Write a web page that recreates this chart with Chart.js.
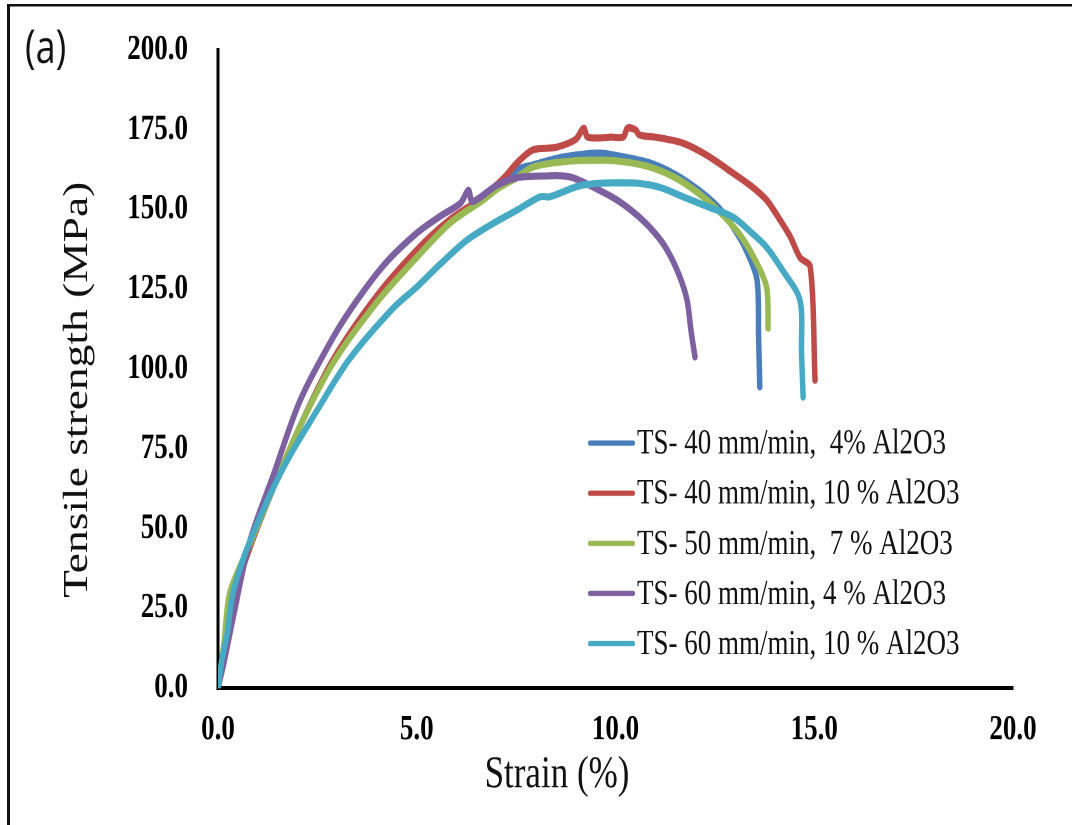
<!DOCTYPE html>
<html>
<head>
<meta charset="utf-8">
<script src="https://cdn.jsdelivr.net/npm/chart.js@4.4.1/dist/chart.umd.min.js"></script>
<style>
  html, body { margin: 0; padding: 0; background: #fff; width: 1072px; height: 825px; }
  #page { position: relative; width: 1072px; height: 825px; }
  /* the original figure is stretched vertically, so the whole canvas is too */
  #stage { position: absolute; left: 0; top: 0; width: 1072px; height: 635px; transform: scaleY(1.2992); transform-origin: 0 0; }
</style>
</head>
<body>
<div id="page"><div id="stage"><canvas id="tensile-chart" width="1072" height="635"></canvas></div></div>
<script>
const seriesLabels = [
  "TS- 40 mm/min,  4% Al2O3",
  "TS- 40 mm/min, 10 % Al2O3",
  "TS- 50 mm/min,  7 % Al2O3",
  "TS- 60 mm/min, 4 % Al2O3",
  "TS- 60 mm/min, 10 % Al2O3"
];
const seriesColors = ["#4A7EBB", "#BE4B48", "#98B954", "#7D60A0", "#46AAC5"];
const xTickValues = [0, 5, 10, 15, 20];
const yTickValues = [0, 25, 50, 75, 100, 125, 150, 175, 200];

// strain (%) / tensile strength (MPa)
const strain40mm4 = [0, 0.15, 0.35, 0.8, 1.4, 2.06, 2.9, 4.0, 5.0, 5.8, 6.67, 7.52, 7.92, 8.7, 9.6, 10.2, 10.87, 11.5, 12.1, 12.6, 12.96, 13.3, 13.56, 13.6, 13.63];
const stress40mm4 = [0, 11, 26, 44, 63, 82, 103, 122, 137, 146, 153.5, 162.5, 164, 166.5, 167.7, 166.5, 164.6, 161, 156, 150.5, 144.5, 137, 128, 110, 94.4];

const strain40mm10 = [0, 0.15, 0.35, 0.8, 1.4, 2.06, 2.9, 4.0, 5.0, 5.8, 6.67, 7.2, 7.52, 7.92, 8.5, 9.0, 9.2, 9.3, 9.9, 10.2, 10.3, 10.5, 10.6, 11.1, 11.7, 12.3, 12.96, 13.4, 13.8, 14.1, 14.4, 14.64, 14.9, 15.02];
const stress40mm10 = [0, 12, 27, 44, 63, 82, 103, 123, 137.3, 146.5, 154, 160, 164.6, 168.7, 169.5, 172, 175.5, 172.7, 172.7, 172.8, 175.5, 175, 173.4, 172.5, 170.8, 167, 161.4, 157.5, 153, 147.5, 141.4, 135, 132, 96.5];

const strain50mm7 = [0, 0.15, 0.3, 0.8, 1.4, 2.06, 2.9, 4.0, 5.0, 5.84, 6.67, 7.09, 7.52, 7.92, 8.7, 9.6, 10.2, 10.87, 11.5, 12.1, 12.6, 13.1, 13.5, 13.8, 13.84];
const stress50mm7 = [0, 14, 30, 45, 63, 82, 102, 121, 135, 145.8, 153, 157, 160, 163.3, 165, 165.5, 165, 163.3, 160, 155, 149.5, 142.6, 134.5, 125.7, 112.8];

const strain60mm4 = [0, 0.15, 0.38, 0.8, 1.4, 2.06, 2.9, 3.5, 4.2, 5.0, 5.6, 6.1, 6.3, 6.4, 7.0, 7.52, 8.2, 8.86, 9.6, 10.1, 10.6, 11.0, 11.3, 11.6, 11.8, 11.9, 12.0];
const stress60mm4 = [0, 8, 22, 46, 67, 90, 110, 121.6, 133, 142.6, 148, 152, 156, 152.5, 157.5, 160, 160.5, 160.2, 156, 152.5, 147.6, 142.5, 137.3, 129.5, 121.6, 112, 103.8];

const strain60mm10 = [0, 0.1, 0.23, 0.38, 0.8, 1.64, 2.49, 3.3, 4.4, 5.0, 5.6, 6.26, 6.9, 7.52, 8.1, 8.35, 9.18, 10.44, 11.1, 11.7, 12.3, 12.96, 13.4, 13.8, 14.2, 14.64, 14.68, 14.72];
const stress60mm10 = [0, 9, 17, 30, 46, 69, 87, 103, 119, 125.7, 133, 140.4, 145.5, 149.8, 154, 154, 157.7, 158.3, 157, 154, 151, 147.6, 143, 138.2, 131, 121.6, 105, 91.2];

const serif = "'Liberation Serif', 'Times New Roman', serif";

function toPoints(xs, ys) {
  return xs.map((x, i) => ({ x: x, y: ys[i] }));
}

const curves = [
  toPoints(strain40mm4, stress40mm4),
  toPoints(strain40mm10, stress40mm10),
  toPoints(strain50mm7, stress50mm7),
  toPoints(strain60mm4, stress60mm4),
  toPoints(strain60mm10, stress60mm10)
];

// frame, panel letter, axis titles and the in-plot legend
const decorations = {
  id: "decorations",
  afterDraw(chart) {
    const ctx = chart.ctx;
    ctx.save();
    ctx.fillStyle = "#111";
    ctx.fillRect(7, 3, 1065, 2);
    ctx.fillRect(7, 3, 3, 640);

    ctx.font = "36px 'Open Sans', sans-serif";
    ctx.textAlign = "left";
    ctx.textBaseline = "middle";
    ctx.fillText("(a)", 25, 38);

    ctx.font = "35px " + serif;
    ctx.textAlign = "center";
    ctx.fillText("Strain (%)", 557, 597);

    ctx.save();
    ctx.translate(78, 300);
    ctx.rotate(-Math.PI / 2);
    ctx.fillText("Tensile strength (MPa)", 0, 0);
    ctx.restore();

    ctx.font = "27px " + serif;
    ctx.textAlign = "left";
    chart.data.datasets.forEach((ds, i) => {
      const y = 341 + i * 38.6;
      ctx.strokeStyle = ds.borderColor;
      ctx.lineWidth = 4;
      ctx.lineCap = "round";
      ctx.beginPath();
      ctx.moveTo(590, y);
      ctx.lineTo(633, y);
      ctx.stroke();
      ctx.fillStyle = "#111";
      ctx.fillText(ds.label, 637, y + 1);
    });
    ctx.restore();
  }
};

new Chart(document.getElementById("tensile-chart"), {
  type: "scatter",
  data: {
    datasets: curves.map((pts, i) => ({
      label: seriesLabels[i],
      data: pts,
      showLine: true,
      borderColor: seriesColors[i],
      backgroundColor: seriesColors[i],
      borderWidth: 5.5,
      borderCapStyle: "round",
      borderJoinStyle: "round",
      tension: 0.3,
      pointRadius: 0,
      pointHoverRadius: 0,
      order: seriesLabels.length - i
    }))
  },
  options: {
    responsive: false,
    animation: false,
    devicePixelRatio: 2,
    layout: { padding: { left: 10, right: 59, top: 38.5, bottom: 0 } },
    plugins: {
      legend: { display: false },
      tooltip: { enabled: false }
    },
    scales: {
      x: {
        type: "linear",
        min: 0,
        max: 20,
        grid: { display: false },
        border: { color: "#000", width: 3 },
        afterBuildTicks: (scale) => { scale.ticks = xTickValues.map(v => ({ value: v })); },
        afterFit: (scale) => { scale.height = 105.4; },
        ticks: {
          padding: 8,
          color: "#000",
          font: { family: serif, size: 27, weight: "bold" },
          callback: (v) => Number(v).toFixed(1)
        }
      },
      y: {
        type: "linear",
        min: 0,
        max: 200,
        grid: { display: false },
        border: { color: "#000", width: 3 },
        afterBuildTicks: (scale) => { scale.ticks = yTickValues.map(v => ({ value: v })); },
        afterFit: (scale) => { scale.width = 208; },
        ticks: {
          padding: 22,
          color: "#000",
          font: { family: serif, size: 27, weight: "bold" },
          callback: (v) => Number(v).toFixed(1)
        }
      }
    }
  },
  plugins: [decorations]
});
</script>
</body>
</html>
